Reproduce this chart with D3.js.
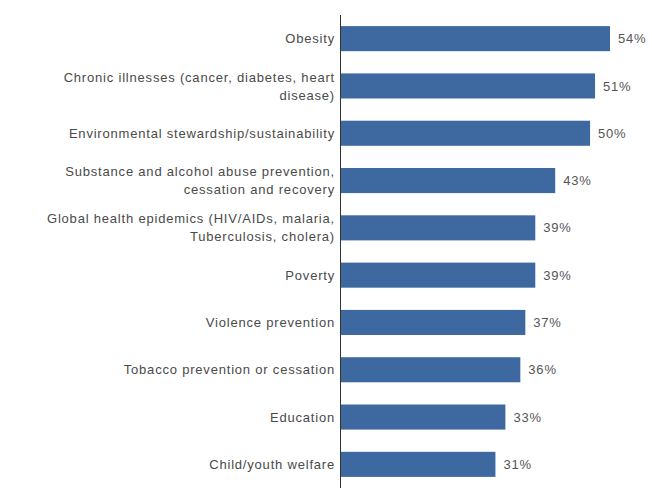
<!DOCTYPE html>
<html><head><meta charset="utf-8">
<script src="https://cdn.jsdelivr.net/npm/d3@7"></script>
<style>body{margin:0;background:#fff}svg{display:block}</style>
</head><body>
<svg id="c" width="652" height="495"></svg>
<script>
const categories = [
  ["Obesity"],
  ["Chronic illnesses (cancer, diabetes, heart", "disease)"],
  ["Environmental stewardship/sustainability"],
  ["Substance and alcohol abuse prevention,", "cessation and recovery"],
  ["Global health epidemics (HIV/AIDs, malaria,", "Tuberculosis, cholera)"],
  ["Poverty"],
  ["Violence prevention"],
  ["Tobacco prevention or cessation"],
  ["Education"],
  ["Child/youth welfare"]
];
const values = [54, 51, 50, 43, 39, 39, 37, 36, 33, 31];
const valueLabels = ["54%", "51%", "50%", "43%", "39%", "39%", "37%", "36%", "33%", "31%"];

const svg = d3.select("#c");
const x0 = 341;
const x = d3.scaleLinear().domain([0, 54]).range([x0, 610]);
const y = d3.scaleBand().domain(d3.range(categories.length)).range([15, 488]).paddingInner(0.47).paddingOuter(0.235);

svg.selectAll("rect.bar").data(values).join("rect")
  .attr("class", "bar")
  .attr("x", x(0))
  .attr("y", (d, i) => y(i))
  .attr("width", d => x(d) - x(0))
  .attr("height", y.bandwidth())
  .attr("fill", "#3e68a0");

svg.append("line").attr("x1", x0 - 0.5).attr("x2", x0 - 0.5).attr("y1", 15).attr("y2", 488)
  .attr("stroke", "#333").attr("stroke-width", 1);

const fs = 13;
const ls = 0.8;
const lh = 18;
const lab = svg.selectAll("text.cat").data(categories).join("text")
  .attr("class", "cat")
  .attr("text-anchor", "end")
  .attr("font-family", "Liberation Sans, Arial, sans-serif")
  .attr("font-size", fs)
  .attr("letter-spacing", ls)
  .attr("fill", "#4a4a4a");
lab.each(function(lines, i) {
  const t = d3.select(this);
  const cy = y(i) + y.bandwidth() / 2;
  const start = cy - (lines.length - 1) * lh / 2;
  lines.forEach((l, k) => {
    t.append("tspan").attr("x", 335).attr("y", start + k * lh).attr("dy", "0.35em").text(l);
  });
});

svg.selectAll("text.val").data(values).join("text")
  .attr("class", "val")
  .attr("x", d => x(d) + 8)
  .attr("y", (d, i) => y(i) + y.bandwidth() / 2)
  .attr("dy", "0.35em")
  .attr("font-family", "Liberation Sans, Arial, sans-serif")
  .attr("font-size", fs)
  .attr("letter-spacing", ls)
  .attr("fill", "#555")
  .text((d, i) => valueLabels[i]);
</script>
</body></html>
